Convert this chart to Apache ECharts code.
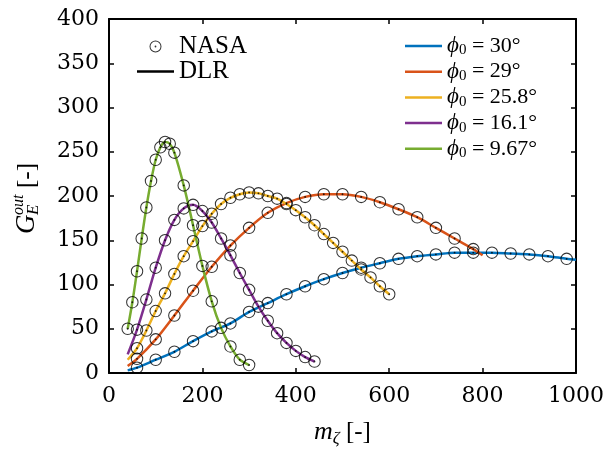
<!DOCTYPE html>
<html><head><meta charset="utf-8">
<script src="https://cdn.jsdelivr.net/npm/echarts@6/dist/echarts.min.js"></script>
<style>html,body{margin:0;padding:0;background:#fff}#c{width:613px;height:449px}</style>
</head><body><div id="c"></div>
<script>
// ---- axis ticks ----
const xTickValues = [0, 200, 400, 600, 800, 1000];
const yTickValues = [0, 50, 100, 150, 200, 250, 300, 350, 400];

// ---- phi_0 labels ----
const phiLabels = ['30', '29', '25.8', '16.1', '9.67'];
const phiColors = ['#0072BD', '#D95319', '#EDB120', '#7E2F8E', '#77AC30'];

// ---- NASA data (markers) ----
const nasaX30 = [60,100,140,180,220,260,300,340,380,420,460,500,540,580,620,660,700,740,780,820,860,900,940,980];
const nasaY30 = [6,15,24,36,47,56,69,79,89,98,106,113,119,124,129,132,134,136,136,136,135,134,132,129];
const nasaX29 = [60,100,140,180,220,260,300,340,380,420,460,500,540,580,620,660,700,740,780];
const nasaY29 = [16,38,65,93,120,144,164,181,192,199,202,202,199,193,185,176,164,152,140];
const nasaX258 = [60,80,100,120,140,160,180,200,220,240,260,280,300,320,340,360,380,400,420,440,460,480,500,520,540,560,580,600];
const nasaY258 = [28,48,70,90,112,132,149,166,180,191,198,202,204,203,200,197,191,184,176,167,157,147,137,127,117,108,98,89];
const nasaX161 = [60,80,100,120,140,160,180,200,220,240,260,280,300,320,340,360,380,400,420,440];
const nasaY161 = [49,83,119,150,173,186,190,183,170,152,133,113,94,75,59,45,34,25,18,13];
const nasaX967 = [40,50,60,70,80,90,100,110,120,130,140,160,180,200,220,240,260,280,300];
const nasaY967 = [50,80,115,152,187,217,241,255,261,259,249,212,167,121,81,51,30,15,9];

// ---- DLR data (lines) ----
const dlrX30 = [40,60,100,140,180,220,260,300,340,380,420,460,500,540,580,620,660,700,740,780,820,860,900,940,980,1000];
const dlrY30 = [3,6,15,24,36,47,56,69,79,89,98,106,113,119,124,129,132,134,136,136,136,135,134,132,129,128];
const dlrX29 = [40,60,100,140,180,220,260,300,340,380,420,460,500,540,580,620,660,700,740,780,800];
const dlrY29 = [8,16,38,65,93,120,144,164,181,192,199,202,202,199,193,185,176,164,152,140,133];
const dlrX258 = [40,60,80,100,120,140,160,180,200,220,240,260,280,300,320,340,360,380,400,420,440,460,480,500,520,540,560,580,600];
const dlrY258 = [15,28,48,70,90,112,132,149,166,180,191,198,202,204,203,200,197,191,184,176,167,157,147,137,127,117,108,98,89];
const dlrX161 = [40,60,80,100,120,140,160,180,200,220,240,260,280,300,320,340,360,380,400,420,440];
const dlrY161 = [21,49,83,119,150,173,186,190,183,170,152,133,113,94,75,59,45,34,25,18,13];
const dlrX967 = [40,50,60,70,80,90,100,110,120,130,140,160,180,200,220,240,260,280,300];
const dlrY967 = [50,80,115,152,187,217,241,255,261,259,249,212,167,121,81,51,30,15,9];

const nasaXs = [nasaX30, nasaX29, nasaX258, nasaX161, nasaX967];
const nasaYs = [nasaY30, nasaY29, nasaY258, nasaY161, nasaY967];
const dlrXs = [dlrX30, dlrX29, dlrX258, dlrX161, dlrX967];
const dlrYs = [dlrY30, dlrY29, dlrY258, dlrY161, dlrY967];

const zip = (xs, ys) => xs.map((x, i) => [x, ys[i]]);

const ringSymbol = 'path://M6,0 A6,6 0 1,1 6,12 A6,6 0 1,1 6,0 Z M6,1 A5,5 0 1,0 6,11 A5,5 0 1,0 6,1 Z M6,5.1 A0.9,0.9 0 1,1 6,6.9 A0.9,0.9 0 1,1 6,5.1 Z';
const lineIcon = 'path://M0,0 L37,0 L37,2.5 L0,2.5 Z';
const SERIF = '"Liberation Serif", "Times New Roman", serif';
const TICKFONT = '"DejaVu Serif", "Liberation Serif", serif';

const series = [];
phiLabels.forEach((p, i) => {
  series.push({
    name: p, type: 'line', xAxisIndex: 0, yAxisIndex: 0,
    data: zip(dlrXs[i], dlrYs[i]), smooth: 0.3, symbol: 'none', showSymbol: false,
    lineStyle: { color: phiColors[i], width: 2.5 }, itemStyle: { color: phiColors[i] },
    z: 2, silent: true, animation: false
  });
});
series.push({
  name: 'DLR', type: 'line', data: [], symbol: 'none', showSymbol: false,
  lineStyle: { color: '#000', width: 2 }, itemStyle: { color: '#000' }, animation: false
});
phiLabels.forEach((p, i) => {
  series.push({
    name: 'NASA', type: 'scatter', xAxisIndex: 0, yAxisIndex: 0,
    data: zip(nasaXs[i], nasaYs[i]), symbol: ringSymbol, symbolSize: 12.5, symbolKeepAspect: true,
    itemStyle: { color: '#000' }, z: 5, silent: true, animation: false
  });
});

const axisLineStyle = { lineStyle: { color: '#000', width: 2 } };
const tickStyle = { show: true, inside: true, length: 5, lineStyle: { color: '#000', width: 1.5 } };

const option = {
  backgroundColor: '#fff',
  animation: false,
  grid: { left: 109, right: 37, top: 19, bottom: 76, containLabel: false, outerBoundsMode: 'none' },
  xAxis: [
    { type: 'value', position: 'bottom', min: 0, max: 1000, interval: 200,
      axisLine: { show: true, onZero: false, ...axisLineStyle }, axisTick: tickStyle,
      axisLabel: { color: '#000', fontFamily: TICKFONT, fontSize: 22, margin: 12,
        formatter: v => xTickValues.includes(v) ? String(v) : '' },
      splitLine: { show: false },
      name: '{m|m}{z|ζ}{b| [-]}', nameLocation: 'middle', nameGap: 44,
      nameTextStyle: { rich: {
        m: { fontFamily: SERIF, fontStyle: 'italic', fontSize: 26, color: '#000', lineHeight: 30 },
        z: { fontFamily: SERIF, fontStyle: 'italic', fontSize: 17, color: '#000', lineHeight: 30, padding: [14, 0, 0, 0] },
        b: { fontFamily: SERIF, fontSize: 25, color: '#000', lineHeight: 30 }
      } }
    },
    { type: 'value', position: 'top', min: 0, max: 1000, interval: 200,
      axisLine: { show: true, onZero: false, ...axisLineStyle }, axisTick: tickStyle,
      axisLabel: { show: false }, splitLine: { show: false } }
  ],
  yAxis: [
    { type: 'value', position: 'left', min: 0, max: 400, interval: 50,
      axisLine: { show: true, onZero: false, ...axisLineStyle }, axisTick: tickStyle,
      axisLabel: { color: '#000', fontFamily: TICKFONT, fontSize: 22, margin: 10,
        formatter: v => yTickValues.includes(v) ? String(v) : '' },
      splitLine: { show: false } },
    { type: 'value', position: 'right', min: 0, max: 400, interval: 50,
      axisLine: { show: true, onZero: false, ...axisLineStyle }, axisTick: tickStyle,
      axisLabel: { show: false }, splitLine: { show: false } }
  ],
  legend: [
    { orient: 'vertical', left: 137, top: 34, padding: 0, itemWidth: 37, itemHeight: 12, itemGap: 0,
      symbolKeepAspect: true, selectedMode: false,
      data: [{ name: 'NASA' }, { name: 'DLR', icon: lineIcon }],
      textStyle: { fontFamily: SERIF, fontSize: 25, color: '#000', lineHeight: 25 } },
    { orient: 'vertical', left: 405, top: 34, padding: 0, itemWidth: 37, itemHeight: 12, itemGap: 1.7,
      symbolKeepAspect: true, selectedMode: false,
      data: phiLabels.map(n => ({ name: n, icon: lineIcon })),
      formatter: n => '{p|ϕ}{s|0}{t| = ' + n + '°}',
      textStyle: { color: '#000', rich: {
        p: { fontFamily: SERIF, fontStyle: 'italic', fontSize: 23, color: '#000', lineHeight: 25 },
        s: { fontFamily: SERIF, fontSize: 15, color: '#000', lineHeight: 25, padding: [9, 0, 0, 0] },
        t: { fontFamily: SERIF, fontSize: 22, color: '#000', lineHeight: 25 }
      } } }
  ],
  graphic: [
    { type: 'group', x: 27, y: 198, rotation: Math.PI / 2, children: [
      { type: 'text', x: -36, y: 0, style: { text: 'G', fontFamily: SERIF, fontStyle: 'italic', fontSize: 27, fill: '#000', align: 'left', verticalAlign: 'middle' } },
      { type: 'text', x: -17, y: -8, style: { text: 'out', fontFamily: SERIF, fontStyle: 'italic', fontSize: 16, fill: '#000', align: 'left', verticalAlign: 'middle' } },
      { type: 'text', x: -17, y: 7, style: { text: 'E', fontFamily: SERIF, fontStyle: 'italic', fontSize: 17, fill: '#000', align: 'left', verticalAlign: 'middle' } },
      { type: 'text', x: 10, y: 0, style: { text: '[-]', fontFamily: SERIF, fontSize: 25, fill: '#000', align: 'left', verticalAlign: 'middle' } }
    ] }
  ],
  series
};
const chart = echarts.init(document.getElementById('c'), null, { renderer: 'canvas' });
chart.setOption(option);
</script></body></html>
